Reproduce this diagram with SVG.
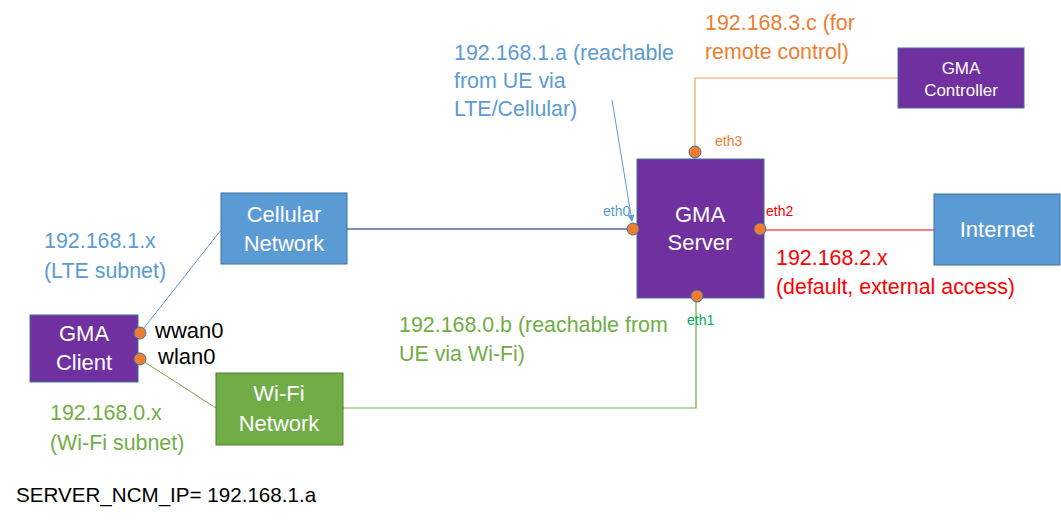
<svg xmlns="http://www.w3.org/2000/svg" width="1061" height="524" viewBox="0 0 1061 524">
<style>
text{font-family:"Liberation Sans",Arial,sans-serif}
.lbl{font-size:21.4px}
.box text{fill:#fff;font-size:22px;text-anchor:middle}
.purple{fill:#7030A0;stroke:#41719C;stroke-width:1}
.blue{fill:#5B9BD5;stroke:#41719C;stroke-width:1}
.green{fill:#70AD47;stroke:#507E32;stroke-width:1}
.port{fill:#ED7D31;stroke:#41719C;stroke-width:1}
.eth{font-size:14px}
</style>
<defs>
<marker id="arr" viewBox="0 0 10 10" refX="9" refY="5" markerWidth="7" markerHeight="7" orient="auto" markerUnits="userSpaceOnUse">
<path d="M0,0 L10,5 L0,10 z" fill="#5B9BD5"/>
</marker>
</defs>
<rect width="1061" height="524" fill="#fff"/>
<g id="connectors" fill="none">
<line x1="347" y1="229" x2="628" y2="229" stroke="#002060" stroke-width="1"/>
<line x1="766" y1="230" x2="934" y2="230" stroke="#FF0000" stroke-width="1.2"/>
<polyline points="898,78 695,78 695,146" stroke="#F4A460" stroke-width="1.2"/>
<polyline points="343,408 696,408 696,302" stroke="#70AD47" stroke-width="1.2"/>
<line x1="221" y1="230" x2="140" y2="333" stroke="#5B9BD5" stroke-width="1"/>
<line x1="140" y1="359" x2="216" y2="408" stroke="#70AD47" stroke-width="1"/>
<line x1="612" y1="100" x2="632" y2="221" stroke="#5B9BD5" stroke-width="1" marker-end="url(#arr)"/>
</g>
<g id="gma-server" class="box">
<rect class="purple" x="637" y="159" width="127" height="139"/>
<text x="700" y="222">GMA</text>
<text x="700" y="250">Server</text>
</g>
<g id="gma-controller" class="box">
<rect class="purple" x="898" y="48" width="126" height="60"/>
<text x="961" y="74" style="font-size:17px">GMA</text>
<text x="961" y="96" style="font-size:17px">Controller</text>
</g>
<g id="cellular-network" class="box">
<rect class="blue" x="221" y="193" width="126" height="71"/>
<text x="284" y="222">Cellular</text>
<text x="284" y="251">Network</text>
</g>
<g id="internet" class="box">
<rect class="blue" x="934" y="194" width="126" height="71"/>
<text x="997" y="237">Internet</text>
</g>
<g id="wifi-network" class="box">
<rect class="green" x="216" y="373" width="127" height="72"/>
<text x="279" y="401">Wi-Fi</text>
<text x="279" y="431">Network</text>
</g>
<g id="gma-client" class="box">
<rect class="purple" x="30" y="315" width="108" height="67"/>
<text x="84" y="341">GMA</text>
<text x="84" y="370">Client</text>
</g>
<g id="ports">
<circle class="port" cx="633" cy="229" r="6"/>
<circle class="port" cx="760" cy="229" r="6"/>
<circle class="port" cx="695" cy="152" r="6"/>
<circle class="port" cx="697" cy="296" r="6"/>
<circle class="port" cx="140" cy="333" r="6"/>
<circle class="port" cx="140" cy="359" r="6"/>
</g>
<g id="labels">
<text class="eth" x="603" y="216" fill="#5B9BD5">eth0</text>
<text class="eth" x="766" y="216" fill="#FF0000">eth2</text>
<text class="eth" x="715" y="146" fill="#ED7D31">eth3</text>
<text class="eth" x="687" y="325" fill="#00B050">eth1</text>
<text class="lbl" x="155" y="338" fill="#000" style="font-size:22px">wwan0</text>
<text class="lbl" x="158" y="364" fill="#000" style="font-size:22px">wlan0</text>
<text class="lbl" x="454" y="60" fill="#5B9BD5">192.168.1.a (reachable</text>
<text class="lbl" x="454" y="88" fill="#5B9BD5">from UE via</text>
<text class="lbl" x="454" y="116" fill="#5B9BD5">LTE/Cellular)</text>
<text class="lbl" x="705" y="30" fill="#ED7D31">192.168.3.c (for</text>
<text class="lbl" x="705" y="59" fill="#ED7D31">remote control)</text>
<text class="lbl" x="44" y="248" fill="#5B9BD5">192.168.1.x</text>
<text class="lbl" x="44" y="278" fill="#5B9BD5">(LTE subnet)</text>
<text class="lbl" x="776" y="265" fill="#FF0000">192.168.2.x</text>
<text class="lbl" x="776" y="294" fill="#FF0000">(default, external access)</text>
<text class="lbl" x="399" y="332" fill="#70AD47">192.168.0.b (reachable from</text>
<text class="lbl" x="399" y="361" fill="#70AD47">UE via Wi-Fi)</text>
<text class="lbl" x="50" y="420" fill="#70AD47">192.168.0.x</text>
<text class="lbl" x="50" y="450" fill="#70AD47">(Wi-Fi subnet)</text>
<text x="16" y="502" style="font-size:20.6px" fill="#000">SERVER_NCM_IP= 192.168.1.a</text>
</g>
</svg>
